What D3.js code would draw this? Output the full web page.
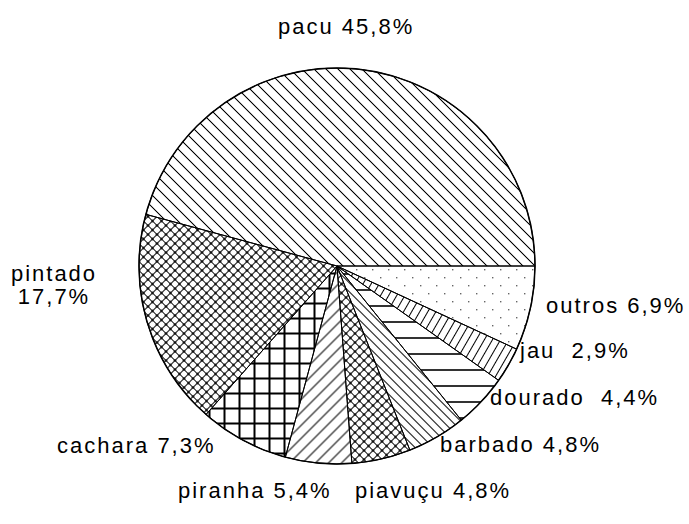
<!DOCTYPE html>
<meta charset="utf-8">
<style>
  body { margin: 0; background: #fff; }
  .label {
      font: 22px "Liberation Sans", Arial, sans-serif;
      letter-spacing: 2px;
      fill: #000;
      white-space: pre;
  }
</style>
<body>
<script src="https://d3js.org/d3.v7.min.js"></script>
<script>

  // share of catch by species (%)
  var species = ["pacu", "pintado", "cachara", "piranha", "piavuçu", "barbado", "dourado", "jau", "outros"];
  var shares = [45.8, 17.7, 7.3, 5.4, 4.8, 4.8, 4.4, 2.9, 6.9];
  var labels = [["pacu 45,8%"], ["pintado", "17,7%"], ["cachara 7,3%"], ["piranha 5,4%"],
                ["piavuçu 4,8%"], ["barbado 4,8%"], ["dourado  4,4%"], ["jau  2,9%"], ["outros 6,9%"]];

  // hatch fill per slice (layout, not data)
  var fills = ["diagA", "diamond", "grid", "diagB", "diamond", "diagC", "horiz", "steep", "dots"];
  // label anchor points [x, baseline, anchor]
  var labelPos = [[278, 34, "start"], [54, 281, "middle"], [57, 453, "start"], [178, 498, "start"],
                  [355, 498, "start"], [440, 452, "start"], [490, 405, "start"], [520, 358, "start"],
                  [546, 313, "start"]];

  var width = 689, height = 524,
      cx = 337, cy = 266, radius = 198;

  var svg = d3.select("body").append("svg")
      .attr("width", width)
      .attr("height", height);

  var defs = svg.append("defs");

  // single line hatch, rotated
  function hatch(id, size, angle, sw) {
      var p = defs.append("pattern")
          .attr("id", id)
          .attr("patternUnits", "userSpaceOnUse")
          .attr("width", size)
          .attr("height", size)
          .attr("patternTransform", "rotate(" + angle + ")");
      p.append("path")
          .attr("d", "M0," + size / 2 + "H" + size)
          .attr("stroke", "#000")
          .attr("stroke-width", sw);
  }

  hatch("diagA", 12 / Math.SQRT2, 45, 1);
  hatch("diagB", 13 / Math.SQRT2, -45, 1);
  hatch("diagC", 9 / Math.SQRT2, 45, 1);
  hatch("horiz", 16, 0, 1.6);
  hatch("steep", 7, -60, 1);

  // diagonal crosshatch with dots at crossings
  var ds = 9 / Math.SQRT2;
  var dp = defs.append("pattern")
      .attr("id", "diamond")
      .attr("patternUnits", "userSpaceOnUse")
      .attr("width", ds)
      .attr("height", ds)
      .attr("patternTransform", "rotate(45)");
  dp.append("path")
      .attr("d", "M0," + ds / 2 + "H" + ds + "M" + ds / 2 + ",0V" + ds)
      .attr("stroke", "#000")
      .attr("stroke-width", 1);
  dp.append("rect")
      .attr("x", ds / 2 - 1.1)
      .attr("y", ds / 2 - 1.1)
      .attr("width", 2.2)
      .attr("height", 2.2);

  // square grid
  var gp = defs.append("pattern")
      .attr("id", "grid")
      .attr("patternUnits", "userSpaceOnUse")
      .attr("width", 15)
      .attr("height", 15);
  gp.append("path")
      .attr("d", "M0,7.5H15M7.5,0V15")
      .attr("stroke", "#000")
      .attr("stroke-width", 2);

  // sparse dots
  var op = defs.append("pattern")
      .attr("id", "dots")
      .attr("patternUnits", "userSpaceOnUse")
      .attr("width", 16)
      .attr("height", 16);
  op.selectAll("rect")
      .data([[3, 3], [11, 11]])
      .enter().append("rect")
      .attr("x", function(d) { return d[0]; })
      .attr("y", function(d) { return d[1]; })
      .attr("width", 1.4)
      .attr("height", 1.4)
      .attr("fill", "#666");

  // counterclockwise from 3 o'clock
  var pie = d3.pie()
      .sort(null)
      .startAngle(Math.PI / 2)
      .endAngle(Math.PI / 2 - 2 * Math.PI);

  var arc = d3.arc()
      .innerRadius(0)
      .outerRadius(radius);

  var g = svg.append("g")
      .attr("transform", "translate(" + cx + "," + cy + ")");

  var arcs = pie(shares);

  g.selectAll("path.slice")
      .data(arcs)
      .enter().append("path")
      .attr("class", "slice")
      .attr("d", arc)
      .attr("fill", "#fff");

  g.selectAll("path.hatch")
      .data(arcs)
      .enter().append("path")
      .attr("class", "hatch")
      .attr("d", arc)
      .attr("fill", function(d, i) { return "url(#" + fills[i] + ")"; })
      .attr("stroke", "#000")
      .attr("stroke-width", 1);

  g.append("circle")
      .attr("r", radius)
      .attr("fill", "none")
      .attr("stroke", "#000")
      .attr("stroke-width", 1.5);

  var txt = svg.selectAll("text.label")
      .data(labels)
      .enter().append("text")
      .attr("class", "label")
      .attr("x", function(d, i) { return labelPos[i][0]; })
      .attr("y", function(d, i) { return labelPos[i][1]; })
      .attr("text-anchor", function(d, i) { return labelPos[i][2]; });

  txt.selectAll("tspan")
      .data(function(d, i) { return d.map(function(s) { return { s: s, x: labelPos[i][0] }; }); })
      .enter().append("tspan")
      .attr("x", function(d) { return d.x; })
      .attr("dy", function(d, j) { return j ? 23 : 0; })
      .text(function(d) { return d.s; });

</script>
